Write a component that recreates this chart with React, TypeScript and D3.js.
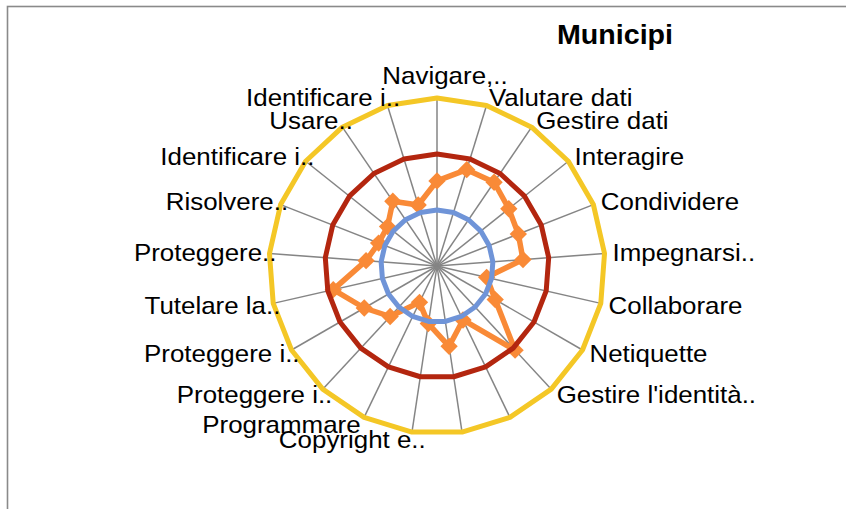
import * as d3 from "d3";

// DigComp areas (labels as truncated in the original chart; two were dropped there)
const categories = [
  "Navigare,..",
  "Valutare dati",
  "Gestire dati",
  "Interagire",
  "Condividere",
  "Impegnarsi..",
  "Collaborare",
  "Netiquette",
  "Gestire l'identità..",
  "Sviluppare..",
  "Integrare..",
  "Copyright e..",
  "Programmare",
  "Proteggere i..",
  "Proteggere i..",
  "Tutelare la..",
  "Proteggere..",
  "Risolvere..",
  "Identificare i..",
  "Usare..",
  "Identificare i..",
];
const hiddenLabels = [9, 10];

const municipi = [1.52, 1.8, 1.81, 1.64, 1.56, 1.54, 0.91, 1.2, 2.05, 1.07, 1.45, 1.04, 0.72, 1.23, 1.5, 1.9, 1.27, 1.12, 1.13, 1.4, 1.14];
const livello1 = [1, 1, 1, 1, 1, 1, 1, 1, 1, 1, 1, 1, 1, 1, 1, 1, 1, 1, 1, 1, 1];
const livello2 = [2, 2, 2, 2, 2, 2, 2, 2, 2, 2, 2, 2, 2, 2, 2, 2, 2, 2, 2, 2, 2];
const livello3 = [3, 3, 3, 3, 3, 3, 3, 3, 3, 3, 3, 3, 3, 3, 3, 3, 3, 3, 3, 3, 3];

const W = 846;
const H = 509;
const cx = 437;
const cy = 266;
const R = 168;
const font = "'Liberation Sans', Arial, sans-serif";

export default function App() {
  const n = categories.length;
  const angle = d3
    .scaleLinear()
    .domain([0, n])
    .range([0, 2 * Math.PI]);
  const r = d3.scaleLinear().domain([0, 3]).range([0, R]);

  const radial = d3
    .lineRadial<number>()
    .angle((_, i) => angle(i))
    .radius((d) => r(d))
    .curve(d3.curveLinearClosed);

  const pt = (i: number, v: number) => {
    const a = angle(i);
    return [r(v) * Math.sin(a), -r(v) * Math.cos(a)];
  };

  const diamond = d3.symbol(d3.symbolSquare, 150)();

  const rings = [
    { data: livello1, color: "#6F94D8" },
    { data: livello2, color: "#B3260F" },
    { data: livello3, color: "#F4C726" },
  ];

  return (
    <svg
      width={W}
      height={H}
      style={{ position: "absolute", left: 0, top: 0, background: "#fff" }}
    >
      <rect x={7.5} y={6.5} width={W + 20} height={H + 20} fill="#fff" stroke="#8a8a8a" strokeWidth={1.6} />
      <text
        transform={`translate(615,44) scale(1.06,1)`}
        textAnchor="middle"
        fontFamily={font}
        fontWeight="bold"
        fontSize={27}
        fill="#000"
      >
        Municipi
      </text>
      <g transform={`translate(${cx},${cy})`}>
        {categories.map((_, i) => {
          const [x, y] = pt(i, 3);
          return <line key={"s" + i} x1={0} y1={0} x2={x} y2={y} stroke="#858585" strokeWidth={1.5} />;
        })}
        <path d={radial(municipi) || ""} fill="none" stroke="#F98A37" strokeWidth={5.5} strokeLinejoin="round" />
        {municipi.map((v, i) => {
          const [x, y] = pt(i, v);
          return <path key={"m" + i} d={diamond || ""} transform={`translate(${x},${y}) rotate(45)`} fill="#F98A37" />;
        })}
        {rings.map((s, k) => (
          <path key={"r" + k} d={radial(s.data) || ""} fill="none" stroke={s.color} strokeWidth={5} strokeLinejoin="round" />
        ))}
        {categories.map((c, i) => {
          if (hiddenLabels.includes(i)) return null;
          const a = angle(i);
          const s = Math.sin(a);
          const co = Math.cos(a);
          const rr = R + 8;
          let x = rr * s;
          let y = -rr * co;
          let anchor = "middle";
          if (s > 0.1) anchor = "start";
          else if (s < -0.1) {
            anchor = "end";
            if (c.endsWith("..")) x += 15;
          } else if (co > 0) {
            y -= 14;
            x += 8;
          }
          return (
            <text
              key={"l" + i}
              transform={`translate(${x},${y}) scale(1.08,1)`}
              textAnchor={anchor}
              dy="0.35em"
              fontFamily={font}
              fontSize={24}
              fill="#000"
            >
              {c}
            </text>
          );
        })}
      </g>
    </svg>
  );
}
